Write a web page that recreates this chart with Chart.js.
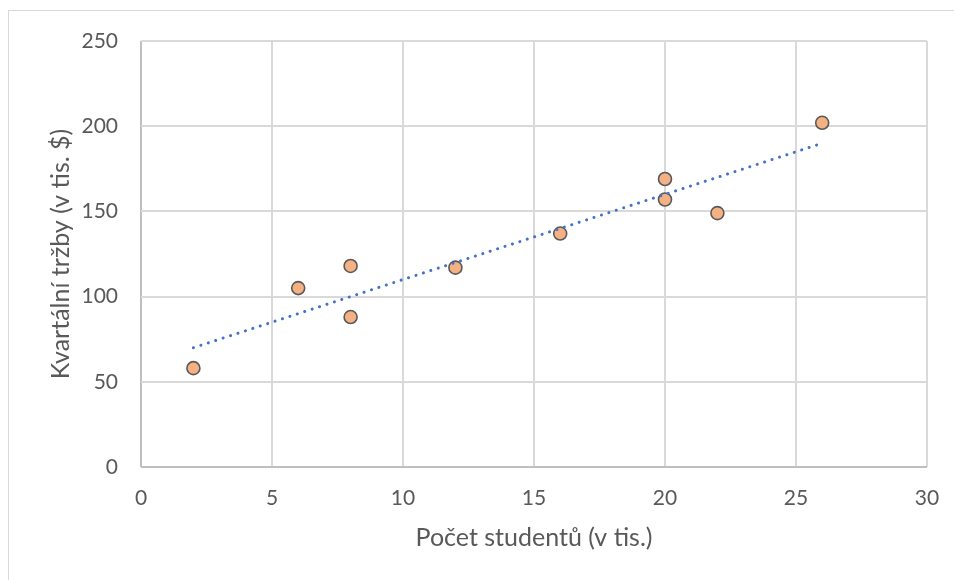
<!DOCTYPE html>
<html>
<head>
<meta charset="utf-8">
<script src="https://cdn.jsdelivr.net/npm/chart.js@4.4.1/dist/chart.umd.min.js"></script>
<style>
  html, body { margin: 0; padding: 0; background: #ffffff; }
  #wrap { position: relative; width: 954px; height: 580px; }
</style>
</head>
<body>
<div id="wrap"><canvas id="chart" width="954" height="580"></canvas></div>
<script>
// Students near each restaurant (thousands) and quarterly sales (thousands of $)
const students = [2, 6, 8, 8, 12, 16, 20, 20, 22, 26];
const sales = [58, 105, 88, 118, 117, 137, 157, 169, 149, 202];

const xTitle = 'Počet studentů (v tis.)';
const yTitle = 'Kvartální tržby (v tis. $)';

const xTicks = [0, 5, 10, 15, 20, 25, 30];
const yTicks = [0, 50, 100, 150, 200, 250];

// Least-squares linear trend through the observations
function linearTrend(xs, ys) {
  const n = xs.length;
  const mx = xs.reduce((a, b) => a + b, 0) / n;
  const my = ys.reduce((a, b) => a + b, 0) / n;
  let sxy = 0, sxx = 0;
  for (let i = 0; i < n; i++) {
    sxy += (xs[i] - mx) * (ys[i] - my);
    sxx += (xs[i] - mx) * (xs[i] - mx);
  }
  const b = sxy / sxx;
  const a = my - b * mx;
  const x0 = Math.min(...xs), x1 = Math.max(...xs);
  return [{ x: x0, y: a + b * x0 }, { x: x1, y: a + b * x1 }];
}

const points = students.map((s, i) => ({ x: s, y: sales[i] }));
const trend = linearTrend(students, sales);

const textColor = '#595959';
const fontFamily = 'Lato, "Open Sans", "Liberation Sans", sans-serif';

// Light frame around the whole chart object
const framePlugin = {
  id: 'frame',
  beforeDraw(chart) {
    const ctx = chart.ctx;
    ctx.save();
    ctx.strokeStyle = '#d9d9d9';
    ctx.lineWidth = 1;
    ctx.strokeRect(8.5, 10.5, chart.width + 10, chart.height + 10);
    ctx.restore();
  }
};

// Axis titles, centred on the plot area
const axisTitlePlugin = {
  id: 'axisTitles',
  afterDraw(chart) {
    const ctx = chart.ctx;
    const area = chart.chartArea;
    ctx.save();
    ctx.fillStyle = textColor;
    ctx.font = '25px ' + fontFamily;
    ctx.textAlign = 'center';
    ctx.textBaseline = 'middle';
    ctx.fillText(xTitle, (area.left + area.right) / 2, 538);
    ctx.translate(61, (area.top + area.bottom) / 2);
    ctx.rotate(-Math.PI / 2);
    ctx.fillText(yTitle, 0, 0);
    ctx.restore();
  }
};

const gridColor = (ctx) => (ctx.tick && ctx.tick.value === 0 ? '#bfbfbf' : '#d9d9d9');

new Chart(document.getElementById('chart'), {
  type: 'scatter',
  data: {
    datasets: [
      {
        label: 'Tržby',
        data: points,
        backgroundColor: '#F4B183',
        borderColor: '#595959',
        borderWidth: 1.6,
        pointRadius: 6.5,
        pointHoverRadius: 6.5,
        order: 2
      },
      {
        label: 'Lineární trend',
        type: 'line',
        data: trend,
        borderColor: '#4472C4',
        borderWidth: 3,
        borderCapStyle: 'round',
        borderDash: [0.1, 7.7],
        pointRadius: 0,
        fill: false,
        order: 1
      }
    ]
  },
  options: {
    responsive: false,
    animation: false,
    events: [],
    layout: { padding: { left: 0, right: 27, top: 41, bottom: 0 } },
    plugins: {
      legend: { display: false },
      tooltip: { enabled: false }
    },
    scales: {
      x: {
        type: 'linear',
        min: 0,
        max: 30,
        afterBuildTicks: (scale) => { scale.ticks = xTicks.map(v => ({ value: v })); },
        afterFit: (scale) => {
          scale.height = 113;
          scale.paddingLeft = 0;
          scale.paddingRight = 0;
        },
        grid: { color: gridColor, lineWidth: 2, drawTicks: false },
        border: { display: false },
        ticks: {
          padding: 19,
          color: textColor,
          font: { family: fontFamily, size: 21 },
          maxRotation: 0
        }
      },
      y: {
        type: 'linear',
        min: 0,
        max: 250,
        afterBuildTicks: (scale) => { scale.ticks = yTicks.map(v => ({ value: v })); },
        afterFit: (scale) => {
          scale.width = 141;
          scale.paddingTop = 0;
          scale.paddingBottom = 0;
        },
        grid: { color: gridColor, lineWidth: 2, drawTicks: false },
        border: { display: false },
        ticks: {
          padding: 23,
          color: textColor,
          font: { family: fontFamily, size: 21 }
        }
      }
    }
  },
  plugins: [framePlugin, axisTitlePlugin]
});
</script>
</body>
</html>
